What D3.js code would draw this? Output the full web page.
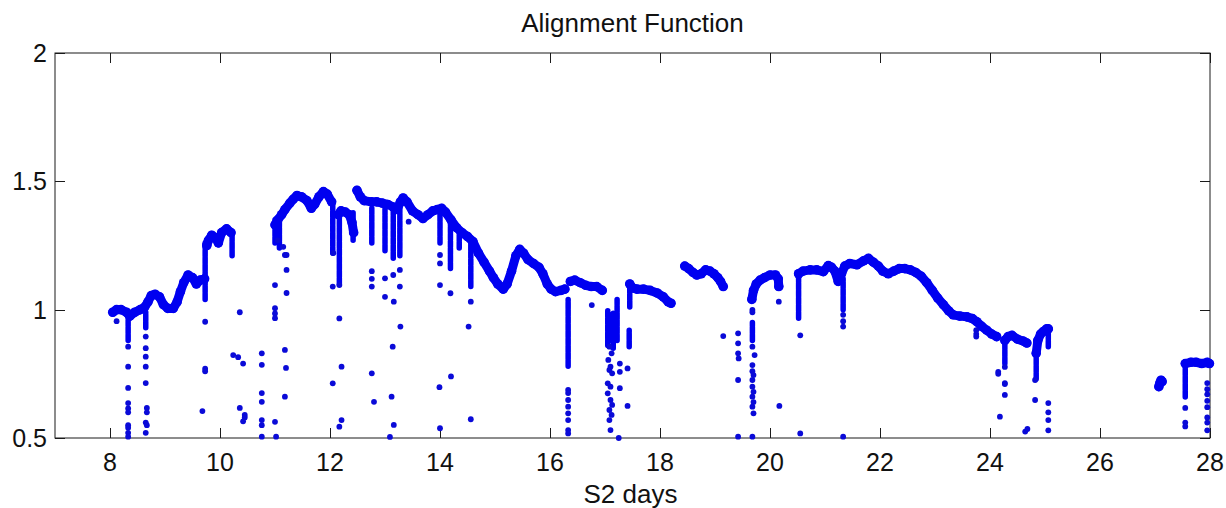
<!DOCTYPE html>
<html>
<head>
<meta charset="utf-8">
<script src="https://cdn.jsdelivr.net/npm/d3@7"></script>
<style>
  html, body { margin: 0; padding: 0; background: #fff; }
  svg text { font-family: "Liberation Sans", Arial, Helvetica, sans-serif; fill: #111; }
</style>
</head>
<body>
<svg id="chart" width="1226" height="508"></svg>
<script>
// Axis ticks
const xTicks = [8, 10, 12, 14, 16, 18, 20, 22, 24, 26, 28];
const yTicks = [0.5, 1, 1.5, 2];

// Main alignment track, one array per continuous run [day, value]
const runA = [[8.05,0.99],[8.12,1.0],[8.2,1.0],[8.3,0.99],[8.36,0.975],[8.45,0.99],[8.55,1.0],[8.63,1.01],[8.69,1.03],[8.75,1.055],[8.82,1.06],[8.9,1.05],[8.97,1.02],[9.05,1.005],[9.15,1.005],[9.22,1.03],[9.28,1.07],[9.34,1.105],[9.42,1.135],[9.5,1.125],[9.57,1.1],[9.64,1.115],[9.72,1.12]];
const runB = [[9.76,1.25],[9.79,1.27],[9.85,1.29],[9.92,1.28],[9.97,1.26],[10.03,1.30],[10.12,1.315],[10.2,1.30]];
const runC = [[11.0,1.33],[11.05,1.35],[11.12,1.37],[11.18,1.39],[11.27,1.415],[11.33,1.43],[11.4,1.445],[11.48,1.44],[11.58,1.425],[11.66,1.395],[11.72,1.41],[11.8,1.44],[11.88,1.46],[11.95,1.45],[12.03,1.42]];
const runD = [[12.15,1.37],[12.2,1.385],[12.28,1.38],[12.35,1.37],[12.4,1.34],[12.43,1.30]];
const runE = [[12.49,1.465],[12.55,1.44],[12.62,1.425],[12.75,1.42],[12.85,1.42],[12.95,1.415],[13.05,1.41],[13.15,1.40],[13.22,1.39],[13.28,1.42],[13.33,1.435],[13.4,1.42],[13.5,1.385],[13.6,1.37],[13.69,1.355],[13.78,1.37],[13.87,1.385],[13.95,1.39],[14.03,1.395],[14.1,1.38],[14.2,1.35],[14.3,1.32],[14.4,1.30],[14.5,1.285],[14.6,1.265],[14.7,1.22],[14.8,1.185],[14.9,1.15],[14.97,1.125],[15.05,1.10],[15.15,1.08],[15.22,1.10],[15.3,1.15],[15.38,1.21],[15.45,1.235],[15.52,1.22],[15.6,1.195],[15.7,1.18],[15.8,1.165],[15.87,1.14],[15.95,1.10],[16.02,1.08],[16.1,1.07],[16.2,1.075],[16.27,1.08]];
const runF = [[16.37,1.11],[16.45,1.115],[16.55,1.105],[16.65,1.095],[16.75,1.09],[16.85,1.09],[16.95,1.075]];
const runG = [[17.45,1.10],[17.5,1.085],[17.58,1.08],[17.7,1.08],[17.82,1.075],[17.95,1.065],[18.06,1.05],[18.15,1.03],[18.2,1.025]];
const runH = [[18.45,1.17],[18.52,1.16],[18.6,1.145],[18.67,1.135],[18.75,1.14],[18.83,1.155],[18.91,1.15],[18.98,1.14],[19.05,1.125],[19.1,1.11],[19.15,1.09]];
const runI = [[19.67,1.04],[19.7,1.075],[19.75,1.10],[19.82,1.115],[19.9,1.125],[20.0,1.135],[20.1,1.135],[20.15,1.12],[20.16,1.09]];
const runJ = [[20.52,1.14],[20.6,1.15],[20.73,1.155],[20.85,1.155],[20.97,1.148],[21.06,1.172],[21.12,1.165],[21.18,1.15],[21.24,1.11],[21.3,1.14],[21.36,1.17],[21.45,1.18],[21.58,1.175],[21.7,1.19],[21.79,1.20],[21.88,1.185],[21.97,1.17],[22.05,1.15],[22.15,1.14],[22.25,1.15],[22.35,1.16],[22.45,1.16],[22.55,1.155],[22.65,1.145],[22.75,1.13],[22.85,1.105],[22.95,1.075],[23.05,1.045],[23.15,1.02],[23.25,0.995],[23.33,0.98],[23.45,0.975],[23.58,0.972],[23.68,0.965],[23.76,0.953],[23.85,0.935],[23.94,0.92],[24.03,0.905],[24.12,0.895]];
const runK = [[24.27,0.88],[24.33,0.895],[24.4,0.9],[24.5,0.885],[24.6,0.878],[24.67,0.87]];
const runL = [[24.84,0.83],[24.87,0.88],[24.92,0.905],[24.97,0.915],[25.03,0.925],[25.06,0.925]];
const runM = [[27.07,0.70],[27.09,0.715],[27.11,0.725],[27.13,0.72]];
const runN = [[27.55,0.79],[27.65,0.795],[27.75,0.795],[27.85,0.79],[27.95,0.795],[27.99,0.79]];
const trendRuns = [runA, runB, runC, runD, runE, runF, runG, runH, runI, runJ, runK, runL, runM, runN];

// Dense vertical bursts of samples: [day, low value, high value]
const denseColumns = [
  [8.33,0.88,0.99],[8.65,0.93,0.99],[9.73,1.04,1.26],[10.22,1.21,1.29],
  [11.0,1.26,1.35],[11.08,1.24,1.36],[12.05,1.22,1.42],[12.17,1.10,1.38],[12.42,1.27,1.38],
  [12.76,1.26,1.40],[13.0,1.23,1.41],[13.15,1.20,1.40],[13.27,1.21,1.40],
  [14.0,1.26,1.39],[14.19,1.16,1.36],[14.35,1.24,1.31],[14.56,1.09,1.28],
  [16.33,0.78,1.04],[17.05,0.86,1.0],[17.1,0.88,0.98],[17.15,0.85,0.99],[17.22,0.88,1.04],
  [17.45,1.01,1.10],[17.44,0.856,0.92],[19.68,0.88,0.95],[20.52,0.967,1.14],[21.33,1.0,1.12],
  [24.27,0.79,0.89],[24.84,0.73,0.88],[25.06,0.856,0.93],[27.55,0.66,0.79]
];

// Isolated samples [day, value]
const strayPoints = [
  [8.12,0.955],
  [8.33,0.856],[8.33,0.778],[8.33,0.695],[8.33,0.636],[8.33,0.615],[8.33,0.60],[8.33,0.55],[8.33,0.54],[8.33,0.52],[8.33,0.505],
  [8.65,0.895],[8.65,0.85],[8.65,0.817],[8.65,0.778],[8.65,0.714],[8.67,0.617],[8.67,0.60],[8.65,0.56],[8.67,0.55],[8.65,0.52],
  [9.73,0.953],[9.73,0.77],[9.73,0.76],[9.68,0.605],
  [10.36,0.99],[10.24,0.823],[10.33,0.815],[10.42,0.79],[10.36,0.617],[10.45,0.59],[10.45,0.58],[10.42,0.565],
  [10.76,0.83],[10.76,0.785],[10.76,0.675],[10.76,0.641],[10.76,0.57],[10.76,0.55],[10.76,0.505],
  [11.0,1.096],[11.0,1.006],[11.0,0.985],[11.0,0.967],[11.0,0.563],[11.02,0.505],
  [11.05,1.27],[11.15,1.245],[11.18,1.213],[11.21,1.213],[11.21,1.155],[11.21,1.065],[11.18,0.843],[11.2,0.773],[11.18,0.661],
  [12.06,1.22],[12.05,1.09],[12.17,1.096],[12.17,0.966],[12.21,0.778],[12.05,0.713],[12.21,0.57],[12.17,0.544],
  [12.76,1.15],[12.76,1.12],[12.76,1.09],[12.76,0.752],[12.8,0.641],
  [13.0,1.122],[13.0,1.05],
  [13.15,1.135],[13.16,1.031],[13.14,0.856],[13.12,0.661],[13.16,0.551],[13.09,0.504],
  [13.27,1.155],[13.27,1.09],[13.28,0.934],[13.43,1.343],
  [14.0,1.213],[14.0,1.18],[14.0,1.096],[13.99,0.698],[14.0,0.538],
  [14.19,1.064],[14.2,0.74],
  [14.56,1.031],[14.52,0.934],[14.56,0.573],
  [16.33,0.687],[16.33,0.675],[16.33,0.648],[16.33,0.622],[16.33,0.596],[16.33,0.57],[16.33,0.531],[16.33,0.518],
  [16.76,1.018],
  [17.08,0.856],[17.12,0.83],[17.06,0.804],[17.1,0.778],[17.08,0.765],[17.13,0.752],[17.05,0.713],[17.1,0.70],
  [17.05,0.674],[17.1,0.648],[17.13,0.629],[17.08,0.609],[17.12,0.59],[17.08,0.57],[17.1,0.531],
  [17.27,0.79],[17.27,0.758],[17.27,0.694],[17.41,0.771],[17.41,0.625],[17.25,0.5],
  [19.15,0.897],[19.42,0.908],[19.42,0.869],[19.42,0.83],[19.43,0.81],[19.42,0.726],[19.42,0.505],
  [19.68,0.999],[19.68,0.99],[19.68,0.856],[19.72,0.823],[19.68,0.784],[19.68,0.76],[19.7,0.745],[19.68,0.726],
  [19.68,0.70],[19.7,0.68],[19.68,0.661],[19.7,0.64],[19.68,0.622],[19.7,0.596],[19.68,0.505],
  [20.16,1.031],[20.17,0.625],
  [20.55,0.90],[20.55,0.518],
  [21.33,0.98],[21.33,0.955],[21.33,0.934],[21.33,0.505],
  [23.75,0.92],[23.75,0.905],[23.75,0.895],
  [24.15,0.758],[24.15,0.75],[24.27,0.777],[24.27,0.714],[24.27,0.71],[24.27,0.668],[24.18,0.583],
  [24.82,0.726],[24.82,0.648],[25.06,0.636],[25.06,0.60],[25.06,0.57],[25.06,0.53],[24.64,0.525],[24.68,0.535],
  [27.55,0.617],[27.55,0.56],[27.55,0.545],
  [27.95,0.714],[27.95,0.69],[27.95,0.67],[27.95,0.645],[27.95,0.62],[27.95,0.58],[27.95,0.56],[27.95,0.53]
];

const titleText = "Alignment Function";
const xLabelText = "S2 days";

const svg = d3.select("#chart");
const plot = { left: 55, right: 1210, top: 53, bottom: 438 };
const blue = "#0000f0";
const strayBlue = "#0a0ad8";
const tickLen = 10;

const x = d3.scaleLinear().domain([7, 28]).range([plot.left, plot.right]);
const y = d3.scaleLinear().domain([0.5, 2]).range([plot.bottom, plot.top]);

// Axes frame
svg.append("rect")
  .attr("x", plot.left).attr("y", plot.top)
  .attr("width", plot.right - plot.left).attr("height", plot.bottom - plot.top)
  .attr("fill", "none").attr("stroke", "#1a1a1a").attr("stroke-width", 1);

// Inward ticks on all four sides
const tickG = svg.append("g").attr("stroke", "#1a1a1a").attr("stroke-width", 1);
xTicks.forEach(t => {
  const px = Math.round(x(t)) + 0.5;
  tickG.append("line").attr("x1", px).attr("x2", px).attr("y1", plot.bottom).attr("y2", plot.bottom - tickLen);
  tickG.append("line").attr("x1", px).attr("x2", px).attr("y1", plot.top).attr("y2", plot.top + tickLen);
});
yTicks.forEach(t => {
  const py = Math.round(y(t)) + 0.5;
  tickG.append("line").attr("x1", plot.left).attr("x2", plot.left + tickLen).attr("y1", py).attr("y2", py);
  tickG.append("line").attr("x1", plot.right).attr("x2", plot.right - tickLen).attr("y1", py).attr("y2", py);
});

// Tick labels
svg.append("g").selectAll("text").data(xTicks).join("text")
  .attr("x", d => x(d)).attr("y", plot.bottom + 33)
  .attr("text-anchor", "middle").attr("font-size", 25)
  .text(d => d);
svg.append("g").selectAll("text").data(yTicks).join("text")
  .attr("x", plot.left - 8).attr("y", d => y(d) + 9)
  .attr("text-anchor", "end").attr("font-size", 25)
  .text(d => d);

// Title and axis label
svg.append("text").attr("x", (plot.left + plot.right) / 2).attr("y", 32)
  .attr("text-anchor", "middle").attr("font-size", 26).text(titleText);
svg.append("text").attr("x", (plot.left + plot.right) / 2 - 2).attr("y", 503)
  .attr("text-anchor", "middle").attr("font-size", 26).text(xLabelText);

// Dense sample bursts drawn as stacked markers
const marks = svg.append("g");
marks.selectAll("line.burst").data(denseColumns).join("line")
  .attr("class", "burst")
  .attr("x1", d => x(d[0])).attr("x2", d => x(d[0]))
  .attr("y1", d => y(d[1])).attr("y2", d => y(d[2]))
  .attr("stroke", blue).attr("stroke-width", 5.5).attr("stroke-linecap", "round")
  .attr("stroke-dasharray", "6 1.2");

// Continuous track runs
const line = d3.line().x(d => x(d[0])).y(d => y(d[1]));
marks.selectAll("path.run").data(trendRuns).join("path")
  .attr("class", "run")
  .attr("d", line)
  .attr("fill", "none").attr("stroke", blue).attr("stroke-width", 9)
  .attr("stroke-linecap", "round").attr("stroke-linejoin", "round");
marks.selectAll("circle.run-pt").data(trendRuns.flat()).join("circle")
  .attr("class", "run-pt")
  .attr("cx", d => x(d[0])).attr("cy", d => y(d[1])).attr("r", 4.8)
  .attr("fill", blue);

// Isolated samples
marks.selectAll("circle.stray").data(strayPoints).join("circle")
  .attr("class", "stray")
  .attr("cx", d => x(d[0])).attr("cy", d => y(d[1])).attr("r", 2.9)
  .attr("fill", strayBlue);
</script>
</body>
</html>
